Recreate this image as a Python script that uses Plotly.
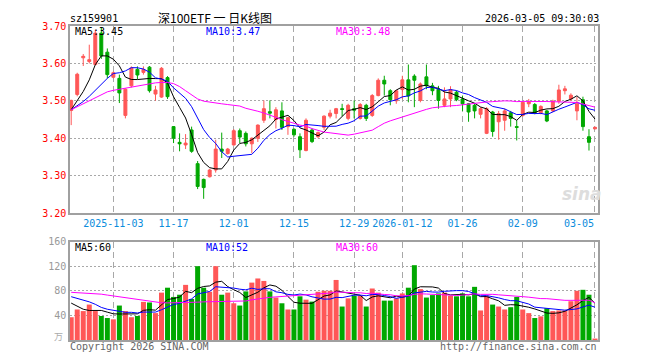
import plotly.graph_objects as go

# ---------------- data ----------------
dates = [
    "2025-10-23", "2025-10-24", "2025-10-27", "2025-10-28", "2025-10-29", "2025-10-30", "2025-10-31",
    "2025-11-03", "2025-11-04", "2025-11-05", "2025-11-06", "2025-11-07", "2025-11-10", "2025-11-11",
    "2025-11-12", "2025-11-13", "2025-11-14", "2025-11-17", "2025-11-18", "2025-11-19", "2025-11-20",
    "2025-11-21", "2025-11-24", "2025-11-25", "2025-11-26", "2025-11-27", "2025-11-28",
    "2025-12-01", "2025-12-02", "2025-12-03", "2025-12-04", "2025-12-05", "2025-12-08", "2025-12-09",
    "2025-12-10", "2025-12-11", "2025-12-12", "2025-12-15", "2025-12-16", "2025-12-17", "2025-12-18",
    "2025-12-19", "2025-12-22", "2025-12-23", "2025-12-24", "2025-12-25", "2025-12-26", "2025-12-29",
    "2025-12-30", "2025-12-31",
    "2026-01-05", "2026-01-06", "2026-01-07", "2026-01-08", "2026-01-09", "2026-01-12", "2026-01-13",
    "2026-01-14", "2026-01-15", "2026-01-16", "2026-01-19", "2026-01-20", "2026-01-21", "2026-01-22",
    "2026-01-23", "2026-01-26", "2026-01-27", "2026-01-28", "2026-01-29", "2026-01-30",
    "2026-02-02", "2026-02-03", "2026-02-04", "2026-02-05", "2026-02-06", "2026-02-09", "2026-02-10",
    "2026-02-11", "2026-02-12", "2026-02-13", "2026-02-24", "2026-02-25", "2026-02-26", "2026-02-27",
    "2026-03-02", "2026-03-03", "2026-03-04", "2026-03-05",
]

opens = [3.474, 3.517, 3.615, 3.605, 3.597, 3.681, 3.630, 3.563, 3.560, 3.461,
         3.540, 3.584, 3.576, 3.590, 3.518, 3.510, 3.562, 3.431, 3.389, 3.382,
         3.422, 3.332, 3.290, 3.297, 3.315, 3.371, 3.359, 3.382, 3.420, 3.413,
         3.385, 3.400, 3.448, 3.471, 3.450, 3.473, 3.431, 3.424, 3.404, 3.367,
         3.422, 3.404, 3.429, 3.459, 3.466, 3.479, 3.453, 3.479, 3.453, 3.488,
         3.461, 3.514, 3.555, 3.527, 3.500, 3.530, 3.556, 3.566, 3.501, 3.564,
         3.540, 3.531, 3.488, 3.505, 3.523, 3.505, 3.492, 3.488, 3.464, 3.413,
         3.470, 3.444, 3.448, 3.468, 3.431, 3.461, 3.492, 3.490, 3.468, 3.473,
         3.473, 3.499, 3.527, 3.505, 3.473, 3.503, 3.404, 3.425]

highs = [3.503, 3.575, 3.625, 3.650, 3.690, 3.697, 3.640, 3.578, 3.570, 3.533,
         3.592, 3.592, 3.592, 3.593, 3.540, 3.590, 3.566, 3.432, 3.413, 3.411,
         3.431, 3.339, 3.292, 3.318, 3.396, 3.415, 3.374, 3.424, 3.426, 3.418,
         3.402, 3.437, 3.501, 3.501, 3.483, 3.496, 3.457, 3.426, 3.413, 3.453,
         3.426, 3.418, 3.461, 3.476, 3.481, 3.492, 3.492, 3.501, 3.494, 3.492,
         3.518, 3.560, 3.567, 3.531, 3.529, 3.567, 3.597, 3.571, 3.549, 3.597,
         3.548, 3.540, 3.536, 3.539, 3.527, 3.514, 3.494, 3.494, 3.483, 3.483,
         3.473, 3.473, 3.479, 3.473, 3.448, 3.499, 3.505, 3.494, 3.488, 3.476,
         3.503, 3.543, 3.540, 3.520, 3.510, 3.511, 3.424, 3.431]

lows = [3.435, 3.512, 3.593, 3.600, 3.595, 3.612, 3.560, 3.560, 3.494, 3.453,
        3.536, 3.558, 3.570, 3.522, 3.500, 3.508, 3.505, 3.387, 3.365, 3.371,
        3.361, 3.264, 3.238, 3.295, 3.308, 3.347, 3.356, 3.380, 3.387, 3.378,
        3.360, 3.390, 3.441, 3.453, 3.426, 3.422, 3.409, 3.404, 3.347, 3.365,
        3.387, 3.400, 3.422, 3.453, 3.453, 3.459, 3.448, 3.453, 3.450, 3.446,
        3.457, 3.512, 3.514, 3.488, 3.492, 3.505, 3.496, 3.483, 3.496, 3.531,
        3.515, 3.479, 3.483, 3.483, 3.499, 3.473, 3.444, 3.453, 3.453, 3.411,
        3.404, 3.396, 3.420, 3.431, 3.394, 3.457, 3.483, 3.464, 3.464, 3.443,
        3.470, 3.492, 3.517, 3.500, 3.448, 3.420, 3.367, 3.424]

closes = [3.501, 3.571, 3.619, 3.610, 3.681, 3.620, 3.570, 3.575, 3.521, 3.531,
          3.588, 3.569, 3.584, 3.527, 3.529, 3.587, 3.511, 3.400, 3.385, 3.387,
          3.365, 3.271, 3.268, 3.315, 3.371, 3.365, 3.371, 3.420, 3.403, 3.385,
          3.400, 3.435, 3.479, 3.467, 3.476, 3.429, 3.455, 3.409, 3.369, 3.448,
          3.391, 3.415, 3.459, 3.467, 3.479, 3.477, 3.488, 3.475, 3.490, 3.453,
          3.514, 3.555, 3.545, 3.503, 3.527, 3.556, 3.513, 3.555, 3.545, 3.540,
          3.527, 3.501, 3.505, 3.530, 3.503, 3.492, 3.470, 3.473, 3.479, 3.479,
          3.418, 3.466, 3.473, 3.453, 3.429, 3.496, 3.497, 3.468, 3.485, 3.446,
          3.499, 3.529, 3.532, 3.515, 3.492, 3.431, 3.389, 3.429]

# volume (万)
volumes = [37, 49.6, 47, 57.6, 47, 39, 35.7, 33.6, 56, 47,
           37, 39, 62, 61, 43.7, 77, 85, 70, 73.6, 89.6,
           66.7, 120, 85, 78.4, 120, 73.6, 77, 59.7, 56, 79,
           93.3, 100, 96, 79, 69, 59.7, 49.6, 49.6, 71, 65.6,
           62.4, 78.4, 80, 80, 97.6, 54.4, 67.7, 72, 72, 54.4,
           83.7, 77, 64, 64, 67.7, 75.7, 85, 121.6, 82.7, 69,
           73, 75.7, 77, 72, 71, 75.7, 71, 86.4, 48, 72,
           57.6, 54.4, 49.6, 53.3, 70, 49.6, 43.7, 35.7, 38.4, 51.7,
           47, 48, 48, 63, 80, 81.6, 73.6, 1.6]

# moving-average values at the start of the chart (they depend on days before the window),
# read from the picture
ma5_head = [3.476, 3.500, 3.525, 3.556]
ma10_head = [3.476, 3.486, 3.498, 3.512, 3.528, 3.543, 3.560, 3.573, 3.575]
ma30_head = [3.476, 3.484, 3.492, 3.500, 3.510, 3.516, 3.524, 3.528, 3.531, 3.535,
             3.538, 3.541, 3.544, 3.546, 3.548, 3.549, 3.549, 3.546, 3.538, 3.527,
             3.515, 3.505, 3.499, 3.496, 3.494, 3.492, 3.490, 3.488, 3.486]
vma5_head = [60, 55, 50, 48]
vma10_head = [70.4, 68, 65, 62, 58, 53, 50, 48, 46]
vma30_head = [77.5, 77, 76.5, 76, 75.5, 74.5, 73, 71.5, 70.5, 69.5,
              68, 66, 64, 62.5, 61.5, 60.5, 60.3, 60.3, 60.3, 60.5,
              61, 61.5, 62, 62.3, 62.4, 62.5, 62.8, 63.3, 64]

tick_dates = ["2025-11-03", "2025-11-17", "2025-12-01", "2025-12-15", "2025-12-29",
              "2026-01-12", "2026-01-26", "2026-02-09", "2026-03-05"]
tick_labels = ["2025-11-03", "11-17", "12-01", "12-15", "12-29",
               "2026-01-12", "01-26", "02-09", "03-05"]
price_ticks = [3.20, 3.30, 3.40, 3.50, 3.60, 3.70]
vol_ticks = [40, 80, 120, 160]


def moving_average(values, n, head):
    out = list(head)
    for i in range(n - 1, len(values)):
        out.append(sum(values[i - n + 1:i + 1]) / n)
    return out


ma5 = moving_average(closes, 5, ma5_head)
ma10 = moving_average(closes, 10, ma10_head)
ma30 = moving_average(closes, 30, ma30_head)
vma5 = moving_average(volumes, 5, vma5_head)
vma10 = moving_average(volumes, 10, vma10_head)
vma30 = moving_average(volumes, 30, vma30_head)

# ---------------- style ----------------
RED = "#FF5757"
GREEN = "#00A800"
MONO = "DejaVu Sans Mono"
GRID = "#A8A8A8"
FRAME = "#A0A0A0"

vol_colors = [RED if c >= o else GREEN for o, c in zip(opens, closes)]

fig = go.Figure()

fig.add_trace(go.Candlestick(
    x=dates, open=opens, high=highs, low=lows, close=closes,
    increasing=dict(line=dict(color=RED, width=1), fillcolor=RED),
    decreasing=dict(line=dict(color=GREEN, width=1), fillcolor=GREEN),
    whiskerwidth=0, xaxis="x", yaxis="y", showlegend=False, hoverinfo="skip",
))
for vals, col in [(ma5, "#000000"), (ma10, "#0000FF"), (ma30, "#FF00FF")]:
    fig.add_trace(go.Scatter(x=dates, y=vals, mode="lines", line=dict(color=col, width=1),
                             xaxis="x", yaxis="y", showlegend=False, hoverinfo="skip"))

fig.add_trace(go.Bar(x=dates, y=volumes, marker=dict(color=vol_colors, line=dict(width=0)),
                     width=0.83, xaxis="x2", yaxis="y2", showlegend=False, hoverinfo="skip"))
for vals, col in [(vma5, "#000000"), (vma10, "#0000FF"), (vma30, "#FF00FF")]:
    fig.add_trace(go.Scatter(x=dates, y=vals, mode="lines", line=dict(color=col, width=1),
                             xaxis="x2", yaxis="y2", showlegend=False, hoverinfo="skip"))

xcommon = dict(
    type="category", range=[-0.2, 87.5], showgrid=True, gridcolor=GRID, gridwidth=1,
    griddash="6px,4px", tickvals=tick_dates, showline=True, mirror=True,
    linecolor=FRAME, linewidth=1.5, ticks="", zeroline=False, fixedrange=True,
)

# The page body has an 8px margin, so the figure is drawn 8px in from the top-left corner.
fig.update_layout(
    width=652, height=352,
    margin=dict(l=62, r=62, t=13, b=20),
    paper_bgcolor="white", plot_bgcolor="white",
    font=dict(family=MONO, size=10),
    boxgap=0.3,
    xaxis=dict(**xcommon, domain=[0, 1], anchor="y",
               ticktext=tick_labels[:-1] + [""],
               tickfont=dict(family=MONO, size=10, color="#0A8CDC"),
               rangeslider=dict(visible=False)),
    yaxis=dict(domain=[0.4044, 1], range=[3.20, 3.70], tickvals=price_ticks,
               ticktext=[f"{v:.2f}" for v in price_ticks],
               tickfont=dict(family=MONO, size=10, color="#FF0000"),
               showgrid=True, gridcolor=GRID, griddash="2px,2px", gridwidth=1,
               showline=True, mirror=True, linecolor=FRAME, linewidth=1.5,
               zeroline=False, ticks="", fixedrange=True),
    xaxis2=dict(**xcommon, domain=[0, 1], anchor="y2", matches="x", showticklabels=False),
    yaxis2=dict(domain=[0, 0.3135], range=[0, 160], tickvals=vol_ticks,
                ticktext=[str(v) for v in vol_ticks],
                tickfont=dict(family=MONO, size=10, color="#999999"),
                showgrid=True, gridcolor=GRID, griddash="2px,2px", gridwidth=1,
                showline=True, mirror=True, linecolor=FRAME, linewidth=1.5,
                zeroline=False, ticks="", fixedrange=True),
)


# helpers: positions given in screen pixels of the final 660x360 picture
def px_x(px):
    return (px - 70) / 528.0


def px_y(py):
    return (340 - py) / 319.0


def note(text, x, y, color="#000000", size=10, family=MONO, xanchor="left", **kw):
    fig.add_annotation(text=text, x=px_x(x), y=px_y(y), xref="paper", yref="paper",
                       xanchor=xanchor, yanchor="middle", showarrow=False, borderpad=0,
                       font=dict(family=family, size=size, color=color), **kw)


# header
note("sz159901", 69, 13)
note("深100ETF 一 日K线图", 214.5, 12, size=12, family="Noto Sans CJK SC", xanchor="center")
note("2026-03-05 09:30:03", 600, 13, xanchor="right")

# MA legends
note("MA5:3.45", 74, 27, "#000000")
note("MA10:3.47", 205, 27, "#0000FF")
note("MA30:3.48", 335, 27, "#FF00FF")
note("MA5:60", 74, 246, "#000000")
note("MA10:52", 205, 246, "#0000FF")
note("MA30:60", 335, 246, "#FF00FF")

# last x label, right-aligned at its tick
fig.add_annotation(text=tick_labels[-1], x=tick_dates[-1], xref="x", y=px_y(222), yref="paper",
                   xanchor="right", yanchor="middle", showarrow=False, xshift=1,
                   font=dict(family=MONO, size=10, color="#0A8CDC"))

# footer
note("Copyright 2026 SINA.COM", 69, 347, "#666666")
note("http://finance.sina.com.cn", 598, 347, "#666666", xanchor="right")
note("万", 64, 336, "#AAAAAA", size=9, family="Noto Sans CJK SC", xanchor="right")

# watermark
note("<b><i>sina</i></b>", 582, 192, "#DDDDDD", size=17, family="DejaVu Sans", xanchor="center")

fig.write_html("out.html")
